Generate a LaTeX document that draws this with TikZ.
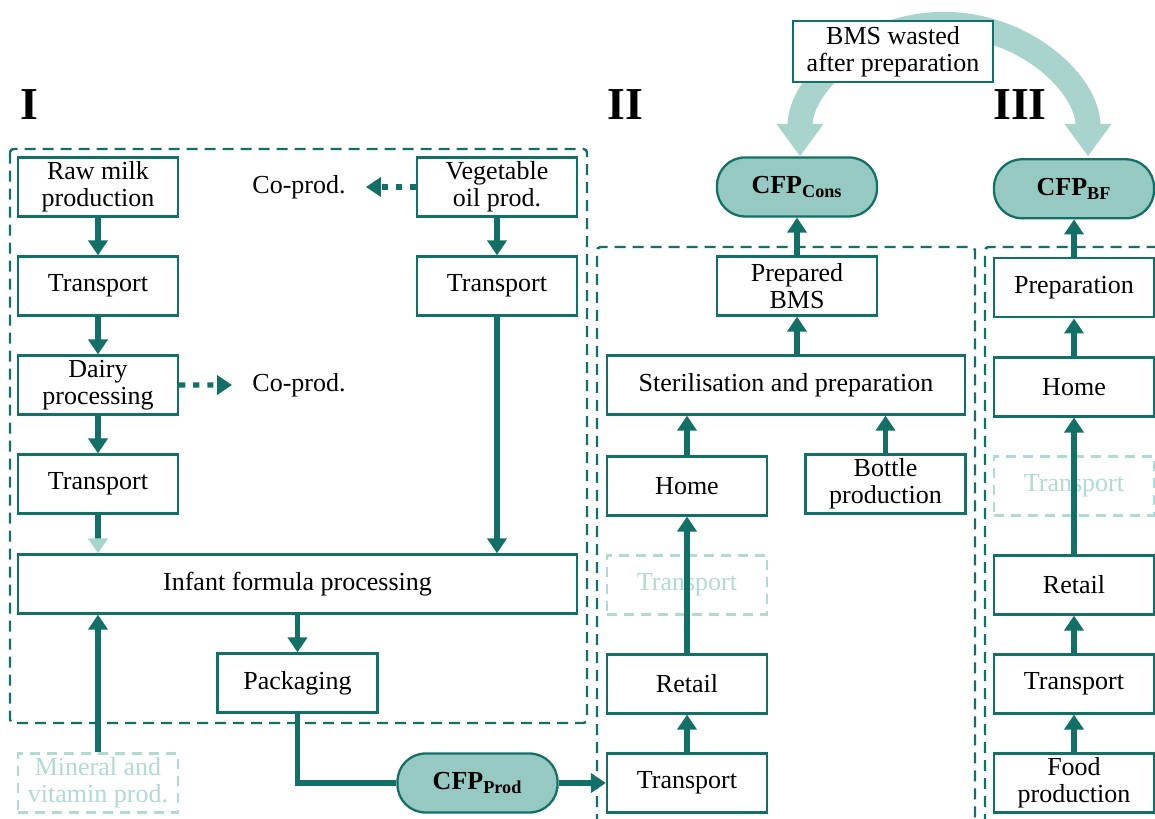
\documentclass[tikz,border=0pt]{standalone}
\usepackage{fontspec}
\setmainfont{Liberation Serif}
\usetikzlibrary{positioning,arrows.meta}
\definecolor{tealdark}{RGB}{18,112,102}
\definecolor{tealfill}{RGB}{150,201,193}
\definecolor{teallight}{RGB}{168,212,205}
\definecolor{tealpale}{RGB}{178,218,212}

\begin{document}
\begin{tikzpicture}[
    node distance=0.755cm,
    every node/.style={font=\fontsize{14.8}{15.6}\selectfont},
    stage/.style={draw=tealdark, line width=1.3pt, fill=white, minimum width=3.2cm,
      minimum height=1.18cm, inner xsep=2pt, inner ysep=1pt, align=center},
    widestage/.style={stage, minimum width=#1},
    ghost/.style={stage, draw=tealpale, text=tealpale, line width=1.3pt,
      dash pattern=on 0.2cm off 0.14cm},
    cfp/.style={stage, fill=tealfill, rounded corners=0.56cm,
      font=\fontsize{14.8}{15.6}\selectfont\bfseries},
    frame/.style={draw=tealdark, line width=1.4pt, dash pattern=on 0.22cm off 0.14cm},
    flow/.style={draw=tealdark, line width=3pt, -{Triangle[width=0.38cm,length=0.3cm]}},
    coflow/.style={flow, dash pattern=on 3.5pt off 4.5pt},
    waste/.style={draw=teallight, line width=0.5cm,
      {Triangle[width=0.9cm,length=0.65cm]}-{Triangle[width=0.9cm,length=0.65cm]}},
    phase/.style={font=\fontsize{26}{28}\selectfont\bfseries}
  ]
  \useasboundingbox (0,0) rectangle (23.1,-16.38);

  % system boundaries
  \draw[frame, rounded corners=2pt] (0.2,-2.98) rectangle (11.74,-14.46);
  \draw[frame, rounded corners=2pt] (11.94,-16.5) -- (11.94,-4.94) -- (19.5,-4.94) -- (19.5,-16.5);
  \draw[frame, rounded corners=2pt] (19.7,-16.5) -- (19.7,-4.94) -- (23.2,-4.94);

  \node[phase] (phI) at (0.58,-2.1) {I};
  \node[phase] (phII) at (12.5,-2.1) {II};
  \node[phase] (phIII) at (20.4,-2.1) {III};

  % I: production
  \node[stage] (raw) at (1.96,-3.74) {Raw milk\\production};
  \node[stage, below=of raw] (trmilk) {Transport};
  \node[stage, below=of trmilk] (dairy) {Dairy\\processing};
  \node[stage, below=of dairy] (trdairy) {Transport};
  \node[widestage=11.18cm] (infant) at (5.95,-11.68) {Infant formula processing};
  \node[stage, below=of infant] (pack) {Packaging};
  \node[ghost] (mineral) at (1.96,-15.66) {Mineral and\\vitamin prod.};
  \node[stage] (veg) at (9.94,-3.74) {Vegetable\\oil prod.};
  \node[stage, below=of veg] (trveg) {Transport};
  \node[inner xsep=0.4cm] (coveg) at (5.98,-3.74) {Co-prod.};
  \node[inner xsep=0.4cm] (codairy) at (5.98,-7.70) {Co-prod.};
  \node[cfp] (cfpprod) at (9.55,-15.66) {CFP\textsubscript{Prod}};

  % II: consumption
  \node[stage] (trII) at (13.74,-15.66) {Transport};
  \node[stage, above=of trII] (retII) {Retail};
  \node[ghost, above=of retII] (trIIx) {Transport};
  \node[stage, above=of trIIx] (homeII) {Home};
  \node[stage] (bottle) at (17.71,-9.68) {Bottle\\production};
  \node[widestage=7.16cm] (steril) at (15.72,-7.70) {Sterilisation and preparation};
  \node[stage] (prepbms) at (15.94,-5.72) {Prepared\\BMS};
  \node[cfp, above=of prepbms] (cfpcons) {CFP\textsubscript{Cons}};

  % III: breastfeeding
  \node[stage] (food) at (21.48,-15.66) {Food\\production};
  \node[stage, above=of food] (trIII) {Transport};
  \node[stage, above=of trIII] (retIII) {Retail};
  \node[ghost, above=of retIII] (trIIIx) {Transport};
  \node[stage, above=of trIIIx] (homeIII) {Home};
  \node[stage, above=of homeIII] (prepIII) {Preparation};
  \node[cfp, above=of prepIII] (cfpbf) {CFP\textsubscript{BF}};

  \draw[flow] (raw) -- (trmilk);
  \draw[flow] (trmilk) -- (dairy);
  \draw[flow] (dairy) -- (trdairy);
  \draw[flow, -{Triangle[width=0.38cm,length=0.3cm,color=teallight]}] (trdairy) -- (trdairy |- infant.north);
  \draw[flow] (veg) -- (trveg);
  \draw[flow] (trveg) -- (trveg |- infant.north);
  \draw[flow] (mineral) -- (mineral |- infant.south);
  \draw[flow] (infant.south -| pack) -- (pack);
  \draw[draw=tealdark, line width=3pt] (pack) |- (cfpprod);
  \draw[flow] (cfpprod) -- (trII);
  \draw[coflow] (veg) -- (coveg);
  \draw[coflow] (dairy) -- (codairy);

  \draw[flow] (trII) -- (retII);
  \draw[flow] (retII) -- (homeII);
  \draw[flow] (homeII) -- (homeII |- steril.south);
  \draw[flow] (bottle) -- (bottle |- steril.south);
  \draw[flow] (steril.north -| prepbms) -- (prepbms);
  \draw[flow] (prepbms) -- (cfpcons);

  \draw[flow] (food) -- (trIII);
  \draw[flow] (trIII) -- (retIII);
  \draw[flow] (retIII) -- (homeIII);
  \draw[flow] (homeIII) -- (prepIII);
  \draw[flow] (prepIII) -- (cfpbf);

  % wasted BMS
  \draw[waste] ([xshift=0.06cm]cfpcons.north) arc[start angle=180, end angle=0, x radius=2.88cm, y radius=2.64cm];
  \node[stage, minimum width=4cm, minimum height=1.22cm] (wasted) at (17.86,-1.03) {BMS wasted\\after preparation};
\end{tikzpicture}
\end{document}
